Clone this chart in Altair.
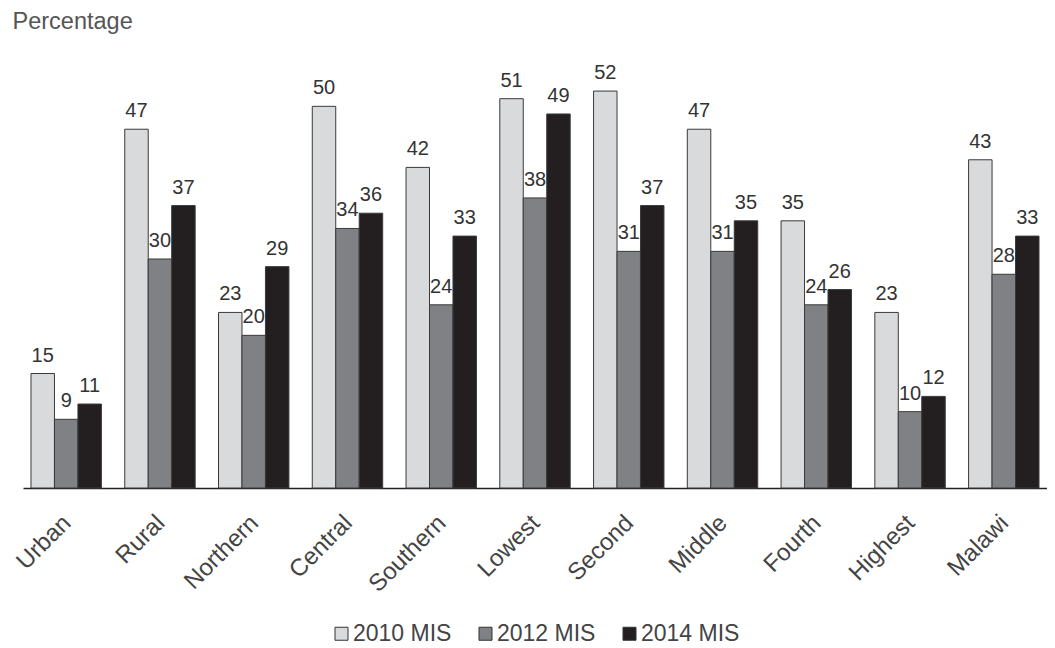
import altair as alt
import pandas as pd

categories = ["Urban", "Rural", "Northern", "Central", "Southern", "Lowest",
              "Second", "Middle", "Fourth", "Highest", "Malawi"]
series = ["2010 MIS", "2012 MIS", "2014 MIS"]
v2010 = [15, 47, 23, 50, 42, 51, 52, 47, 35, 23, 43]
v2012 = [9, 30, 20, 34, 24, 38, 31, 31, 24, 10, 28]
v2014 = [11, 37, 29, 36, 33, 49, 37, 35, 26, 12, 33]
colors = ["#d9dadc", "#808184", "#231f20"]

rows = []
for s, vals in zip(series, [v2010, v2012, v2014]):
    for c, v in zip(categories, vals):
        rows.append({"cat": c, "series": s, "value": v})
df = pd.DataFrame(rows)

FONT = "Liberation Sans"

x = alt.X("cat:N", sort=categories,
          scale=alt.Scale(paddingInner=0.249, paddingOuter=0.0853),
          axis=alt.Axis(title=None, labelAngle=-45, labelAlign="right",
                        labelBaseline="middle", ticks=False, labelFontSize=24,
                        labelColor="#444444", labelFont=FONT, domainColor="#222222",
                        domainWidth=1.5, labelPadding=31, labelOffset=1))
xo = alt.XOffset("series:N", sort=series,
                 scale=alt.Scale(paddingInner=0, paddingOuter=0))
y = alt.Y("value:Q", scale=alt.Scale(domain=[0, 60], nice=False, zero=True),
          axis=alt.Axis(title="Percentage", titleAngle=0, titleX=-11, titleY=-2,
                        titleAlign="left", titleBaseline="alphabetic",
                        titleFontSize=23.5, titleFont=FONT, titleFontWeight="normal",
                        titleColor="#555555", labels=False, ticks=False,
                        domain=False, grid=False))

bars = alt.Chart(df).mark_bar(stroke="#3a3a3a", strokeWidth=1).encode(
    x=x, xOffset=xo, y=y,
    color=alt.Color("series:N", sort=series,
                    scale=alt.Scale(domain=series, range=colors),
                    legend=alt.Legend(orient="none", legendX=307, legendY=592,
                                      direction="horizontal", title=None,
                                      symbolType="square", symbolSize=169,
                                      labelFontSize=23, labelFont=FONT,
                                      labelColor="#444444", columnPadding=22,
                                      labelOffset=0, symbolStrokeColor="#333333",
                                      symbolStrokeWidth=1)),
)

text = alt.Chart(df).mark_text(dy=-12, baseline="alphabetic", fontSize=20,
                               color="#333333", font=FONT).encode(
    x=x, xOffset=xo, y=y, text="value:Q")

chart = alt.layer(bars, text).properties(
    width=1024, height=458,
    autosize=alt.AutoSizeParams(type="none"),
    padding={"left": 15, "top": 22, "right": 0, "bottom": 160},
).configure_view(strokeWidth=0)

chart.save("out.html", embed_options={"renderer": "svg", "actions": False})
